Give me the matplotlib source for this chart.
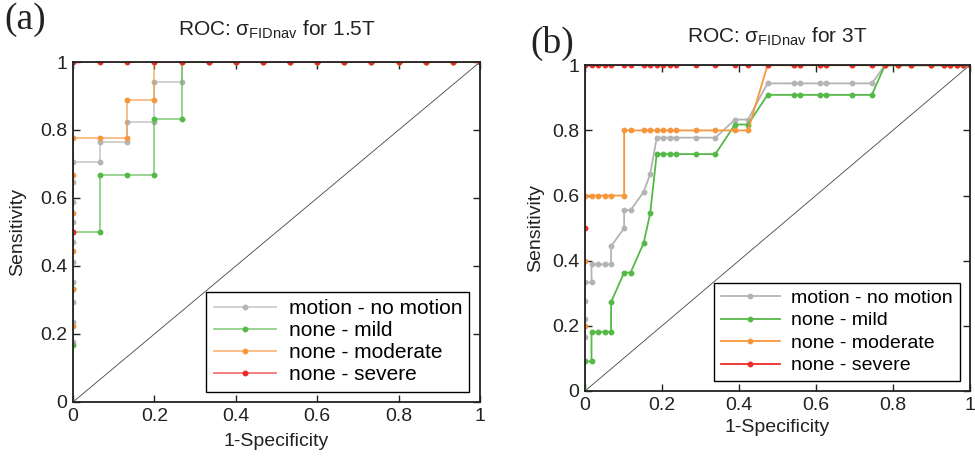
import numpy as np
import matplotlib
matplotlib.use("Agg")
import matplotlib.pyplot as plt

plt.rcParams['font.family'] = ['Liberation Sans', 'DejaVu Sans']
plt.rcParams['mathtext.fontset'] = 'custom'
plt.rcParams['mathtext.rm'] = 'Liberation Sans'
plt.rcParams['mathtext.it'] = 'Liberation Sans'
plt.rcParams['mathtext.bf'] = 'Liberation Sans:bold'

labels = ['motion - no motion', 'none - mild', 'none - moderate', 'none - severe']
colors = ['#b4b4b4', '#55b947', '#f7973d', '#ee2b25']

# 1.5T: false-positive / true-positive counts along each ROC curve
neg_15 = 15
pos_15 = [17, 6, 9, 2]
fp_15 = [
    [0, 0, 0, 0, 0, 0, 0, 0, 0, 0, 1, 1, 2, 2, 3, 3, 4, 4, 5, 6, 7, 8, 9, 10, 11, 12, 13, 14, 15],
    [0, 0, 0, 0, 1, 1, 2, 3, 3, 4, 4, 5, 6, 7, 8, 9, 10, 11, 12, 13, 14, 15],
    [0, 0, 0, 0, 0, 0, 1, 2, 2, 3, 3, 4, 5, 6, 7, 8, 9, 10, 11, 12, 13, 14, 15],
    [0, 0, 1, 2, 3, 4, 5, 6, 7, 8, 9, 10, 11, 12, 13, 14, 15],
]
tp_15 = [
    [3, 4, 5, 6, 7, 8, 9, 10, 11, 12, 12, 13, 13, 14, 14, 16, 16, 17, 17, 17, 17, 17, 17, 17, 17, 17, 17, 17, 17],
    [0, 1, 2, 3, 3, 4, 4, 4, 5, 5, 6, 6, 6, 6, 6, 6, 6, 6, 6, 6, 6, 6],
    [2, 3, 4, 5, 6, 7, 7, 7, 8, 8, 9, 9, 9, 9, 9, 9, 9, 9, 9, 9, 9, 9, 9],
    [1, 2, 2, 2, 2, 2, 2, 2, 2, 2, 2, 2, 2, 2, 2, 2, 2],
]

# 3T
neg_3 = 59
pos_3 = [18, 11, 5, 2]
fp_tail = [32, 33, 36, 37, 41, 44, 46, 48, 50, 53, 55, 56, 57, 58, 59]
fp_3 = [
    [0, 0, 0, 0, 1, 1, 2, 3, 4, 4, 6, 6, 7, 9, 10, 11, 12, 13, 14, 17, 20, 23, 25, 28] + fp_tail,
    [0, 0, 1, 1, 2, 3, 4, 4, 6, 7, 9, 10, 11, 12, 13, 14, 17, 20, 23, 25, 28] + fp_tail,
    [0, 0, 0, 1, 2, 3, 4, 6, 6, 7, 9, 10, 11, 12, 13, 14, 17, 20, 23, 25, 28] + fp_tail,
    [0, 0, 1, 2, 3, 4, 6, 7, 9, 10, 11, 12, 13, 14, 17, 20, 23, 25, 28] + fp_tail,
]
tp_3 = [
    [3, 4, 5, 6, 6, 7, 7, 7, 7, 8, 9, 10, 10, 11, 12, 14, 14, 14, 14, 14, 14, 15, 15, 17,
     17, 17, 17, 17, 17, 17, 18, 18, 18, 18, 18, 18, 18, 18, 18],
    [0, 1, 1, 2, 2, 2, 2, 3, 4, 4, 5, 6, 8, 8, 8, 8, 8, 8, 9, 9, 10,
     10, 10, 10, 10, 10, 10, 11, 11, 11, 11, 11, 11, 11, 11, 11],
    [1, 2, 3, 3, 3, 3, 3, 3, 4, 4, 4, 4, 4, 4, 4, 4, 4, 4, 4, 4, 5,
     5, 5, 5, 5, 5, 5, 5, 5, 5, 5, 5, 5, 5, 5, 5],
    [1, 2] + [2] * 17 + [2] * 15,
]

panels = [
    dict(fp=fp_15, tp=tp_15, neg=neg_15, pos=pos_15, title='1.5T',
         rect=[0.0749, 0.1299, 0.4174, 0.7359], line_alpha=0.65, title_pad=19,
         ylabelpad=10, xlabelpad=6, leg_size=15, leg_space=0.15),
    dict(fp=fp_3, tp=tp_3, neg=neg_3, pos=pos_3, title='3T',
         rect=[0.6, 0.1537, 0.3945, 0.705], line_alpha=1.0, title_pad=16,
         ylabelpad=6, xlabelpad=4, leg_size=14, leg_space=0.25),
]

fig = plt.figure(figsize=(9.75, 4.62), dpi=100)

for p in panels:
    ax = fig.add_axes(p['rect'])
    ax.plot([0, 1], [0, 1], color='#444444', lw=0.6, zorder=1)
    for fp, tp, pos, lab, col in zip(p['fp'], p['tp'], p['pos'], labels, colors):
        x = np.array(fp) / p['neg']
        y = np.array(tp) / pos
        rgb = matplotlib.colors.to_rgb(col)
        ax.plot(x, y, color=rgb + (p['line_alpha'],), lw=1.3, marker='o', ms=3.2,
                markerfacecolor=col, markeredgecolor=col, label=lab, zorder=2)
    ax.set_xlim(0, 1)
    ax.set_ylim(0, 1)
    ticks = [0, 0.2, 0.4, 0.6, 0.8, 1]
    ax.set_xticks(ticks)
    ax.set_yticks(ticks)
    ax.set_xticklabels(['0', '0.2', '0.4', '0.6', '0.8', '1'])
    ax.set_yticklabels(['0', '0.2', '0.4', '0.6', '0.8', '1'])
    ax.tick_params(direction='in', top=True, right=True, length=5, width=1,
                   labelsize=14, pad=4, colors='#222222')
    for s in ax.spines.values():
        s.set_linewidth(1.3)
        s.set_color('#222222')
        s.set_zorder(5)
    ax.set_xlabel('1-Specificity', fontsize=14, labelpad=p['xlabelpad'], color='#222222')
    ax.set_ylabel('Sensitivity', fontsize=14, labelpad=p['ylabelpad'], color='#222222')
    ax.set_title(r'ROC: $\sigma_{\mathrm{FIDnav}}$ for ' + p['title'], fontsize=15,
                 pad=p['title_pad'], color='#222222')
    leg = ax.legend(loc='lower right', bbox_to_anchor=(0.974, 0.03), borderaxespad=0,
                    fontsize=p['leg_size'], handlelength=3.0, numpoints=1,
                    labelspacing=p['leg_space'], handletextpad=0.6, borderpad=0.35,
                    fancybox=False, edgecolor='black', framealpha=1)
    leg.get_frame().set_linewidth(1.0)
    leg.set_zorder(6)

fig.text(0.004, 0.995, '(a)', fontsize=27, family='Liberation Serif', va='top', ha='left',
         color='#222222')
fig.text(0.544, 0.945, '(b)', fontsize=27, family='Liberation Serif', va='top', ha='left',
         color='#222222')

fig.savefig('out.png', dpi=100)
